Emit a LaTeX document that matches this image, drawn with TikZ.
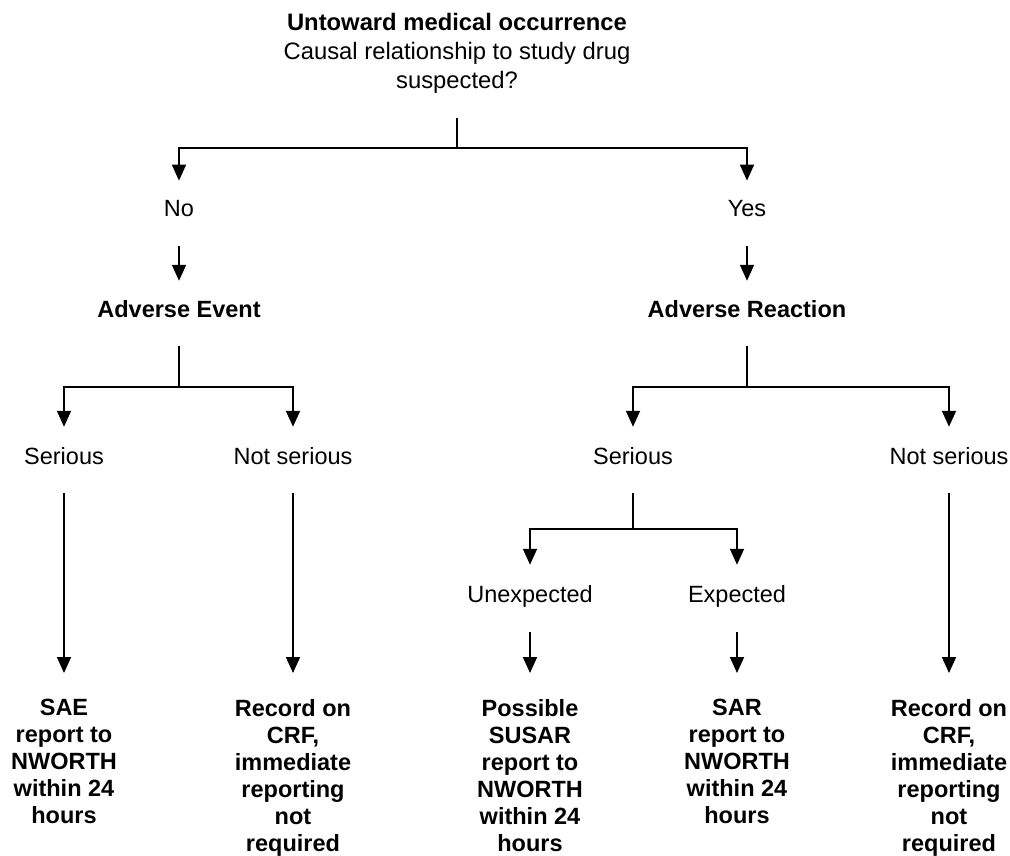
\documentclass[tikz,border=0pt]{standalone}
\usepackage{fontspec}
\setmainfont{Liberation Sans}
\usetikzlibrary{arrows.meta,calc}
\begin{document}
\begin{tikzpicture}[x=1pt,y=-1pt,
  lbl/.style={inner sep=0pt, anchor=base, font=\fontsize{23.5}{27}\selectfont},
  head/.style={inner sep=0pt, anchor=base, font=\fontsize{23.5}{27}\selectfont\bfseries},
  result/.style={inner sep=0pt, anchor=north, align=center, font=\fontsize{23.5}{27}\selectfont\bfseries},
  line/.style={draw=black, line width=1.8pt},
  arr/.style={line, -{Triangle[width=14pt,length=16pt]}}]
\useasboundingbox (0,0) rectangle (1010,856);

\node[anchor=north, inner sep=0pt, align=center, font=\fontsize{23.8}{29}\selectfont] (title) at (457,13)
  {\textbf{Untoward medical occurrence}\\Causal relationship to study drug\\suspected?};

\node[lbl] (no) at (179,217) {No};
\node[lbl] (yes) at (747,217) {Yes};
\node[head] (ae) at (179,317) {Adverse Event};
\node[head] (ar) at (747,317) {Adverse Reaction};
\node[lbl] (s1) at (64,464) {Serious};
\node[lbl] (n1) at (293,464) {Not serious};
\node[lbl] (s2) at (633,464) {Serious};
\node[lbl] (n2) at (949,464) {Not serious};
\node[lbl] (ue) at (530,602) {Unexpected};
\node[lbl] (ex) at (737,602) {Expected};
\node[result] (r1) at (64,699) {SAE\\report to\\NWORTH\\within 24\\hours};
\node[result] (r2) at (293,699) {Record on\\CRF,\\immediate\\reporting\\not\\required};
\node[result] (r3) at (530,699) {Possible\\SUSAR\\report to\\NWORTH\\within 24\\hours};
\node[result] (r4) at (737,699) {SAR\\report to\\NWORTH\\within 24\\hours};
\node[result] (r5) at (949,699) {Record on\\CRF,\\immediate\\reporting\\not\\required};

\coordinate (j1) at (457,148);
\coordinate (j2) at (179,387);
\coordinate (j3) at (747,387);
\coordinate (j4) at (633,529);

\draw[line, shorten <=24pt] (title.south) -- (j1);
\draw[arr, shorten >=20pt] (j1) -| (no.north);
\draw[arr, shorten >=20pt] (j1) -| (yes.north);
\draw[arr, shorten <=29pt, shorten >=19pt] (no.south) -- (ae.north);
\draw[arr, shorten <=29pt, shorten >=19pt] (yes.south) -- (ar.north);

\draw[line, shorten <=29pt] (ae.south) -- (j2);
\draw[line, shorten <=29pt] (ar.south) -- (j3);
\draw[arr, shorten >=20pt] (j2) -| (s1.north);
\draw[arr, shorten >=20pt] (j2) -| (n1.north);
\draw[arr, shorten >=20pt] (j3) -| (s2.north);
\draw[arr, shorten >=20pt] (j3) -| (n2.north);

\draw[arr, shorten <=29pt, shorten >=26pt] (s1.south) -- (r1.north);
\draw[arr, shorten <=29pt, shorten >=26pt] (n1.south) -- (r2.north);
\draw[arr, shorten <=29pt, shorten >=26pt] (n2.south) -- (r5.north);

\draw[line, shorten <=29pt] (s2.south) -- (j4);
\draw[arr, shorten >=20pt] (j4) -| (ue.north);
\draw[arr, shorten >=20pt] (j4) -| (ex.north);
\draw[arr, shorten <=25pt, shorten >=26pt] (ue.south) -- (r3.north);
\draw[arr, shorten <=25pt, shorten >=26pt] (ex.south) -- (r4.north);
\end{tikzpicture}
\end{document}
